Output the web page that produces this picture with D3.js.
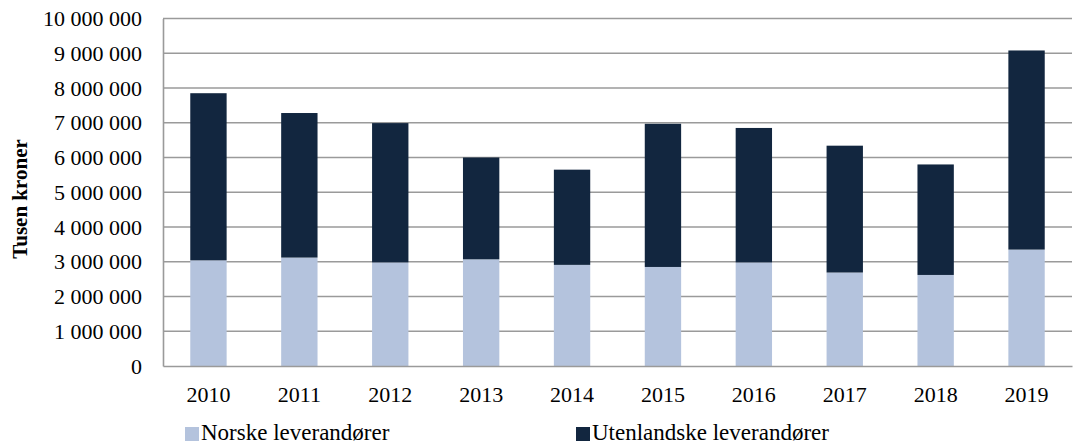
<!DOCTYPE html>
<html>
<head>
<meta charset="utf-8">
<script src="https://cdn.jsdelivr.net/npm/d3@7"></script>
<style>
  body { margin: 0; background: #fff; }
  svg { display: block; font-family: "Liberation Serif", "Times New Roman", serif; }
</style>
</head>
<body>
<svg></svg>
<script>
// values (tusen kroner)
var years = ['2010', '2011', '2012', '2013', '2014', '2015', '2016', '2017', '2018', '2019'];
var norske = [3040000, 3120000, 2980000, 3070000, 2910000, 2850000, 2980000, 2690000, 2620000, 3350000];
var utenlandske = [4810000, 4160000, 4010000, 2930000, 2740000, 4120000, 3870000, 3650000, 3180000, 5730000];
var yTicks = [0, 1000000, 2000000, 3000000, 4000000, 5000000, 6000000, 7000000, 8000000, 9000000, 10000000];
var seriesNames = ['Norske leverandører', 'Utenlandske leverandører'];
var colors = ['#b4c3dd', '#12263f'];

var svgWidth = 1075, svgHeight = 446;
var margin = { top: 18.5, right: 3, bottom: 80, left: 163 };
var width = svgWidth - margin.left - margin.right;
var height = svgHeight - margin.top - margin.bottom;

var nb = d3.formatLocale({ decimal: ',', thousands: ' ', grouping: [3], currency: ['', ''] });
var fmt = nb.format(',');

var svg = d3.select('svg')
    .attr('width', svgWidth)
    .attr('height', svgHeight);

var g = svg.append('g')
    .attr('transform', 'translate(' + margin.left + ',' + margin.top + ')');

var x = d3.scaleBand()
    .domain(years)
    .range([0, width])
    .paddingInner(0.6)
    .paddingOuter(0.3);

var y = d3.scaleLinear()
    .domain([0, 10000000])
    .range([height, 0]);

// gridlines
g.append('g')
    .selectAll('line')
    .data(yTicks.slice(1))
    .enter().append('line')
    .attr('x1', 0)
    .attr('x2', width)
    .attr('y1', (d) => y(d))
    .attr('y2', (d) => y(d))
    .attr('stroke', '#9a9a9a')
    .attr('stroke-width', 1.6);

// stacked data
var table = years.map((yr, i) => ({ year: yr, norske: norske[i], utenlandske: utenlandske[i] }));
var stack = d3.stack().keys(['norske', 'utenlandske'])(table);

g.selectAll('.serie')
    .data(stack)
    .enter().append('g')
    .attr('fill', (d, i) => colors[i])
    .selectAll('rect')
    .data((d) => d)
    .enter().append('rect')
    .attr('x', (d) => x(d.data.year))
    .attr('width', x.bandwidth())
    .attr('y', (d) => y(d[1]))
    .attr('height', (d) => y(d[0]) - y(d[1]));

// y axis
var yAxis = g.append('g')
    .call(d3.axisLeft(y).tickValues(yTicks).tickFormat(fmt).tickSize(0).tickPadding(21));
yAxis.select('.domain').attr('stroke', '#9a9a9a').attr('stroke-width', 1.6);
yAxis.selectAll('text')
    .attr('fill', '#000')
    .style('font-size', '22px')
    .style('font-family', '"Liberation Serif", serif');

// x axis
var xAxis = g.append('g')
    .attr('transform', 'translate(0,' + height + ')')
    .call(d3.axisBottom(x).tickSize(0).tickPadding(20));
xAxis.select('.domain').attr('stroke', '#9a9a9a').attr('stroke-width', 1.6);
xAxis.selectAll('text')
    .attr('fill', '#000')
    .style('font-size', '22px')
    .style('font-family', '"Liberation Serif", serif');

// y title
svg.append('text')
    .attr('transform', 'translate(27,' + 199 + ') rotate(-90)')
    .attr('text-anchor', 'middle')
    .attr('font-weight', 'bold')
    .attr('font-size', '21px')
    .attr('fill', '#000')
    .text('Tusen kroner');

// legend
var legendX = [185, 576];
var legend = svg.selectAll('.legend')
    .data(seriesNames)
    .enter().append('g')
    .attr('transform', (d, i) => 'translate(' + legendX[i] + ',427)');

legend.append('rect')
    .attr('width', 14)
    .attr('height', 14)
    .attr('fill', (d, i) => colors[i]);

legend.append('text')
    .attr('x', 16)
    .attr('y', 13)
    .attr('font-size', '23px')
    .attr('fill', '#000')
    .text((d) => d);
</script>
</body>
</html>
